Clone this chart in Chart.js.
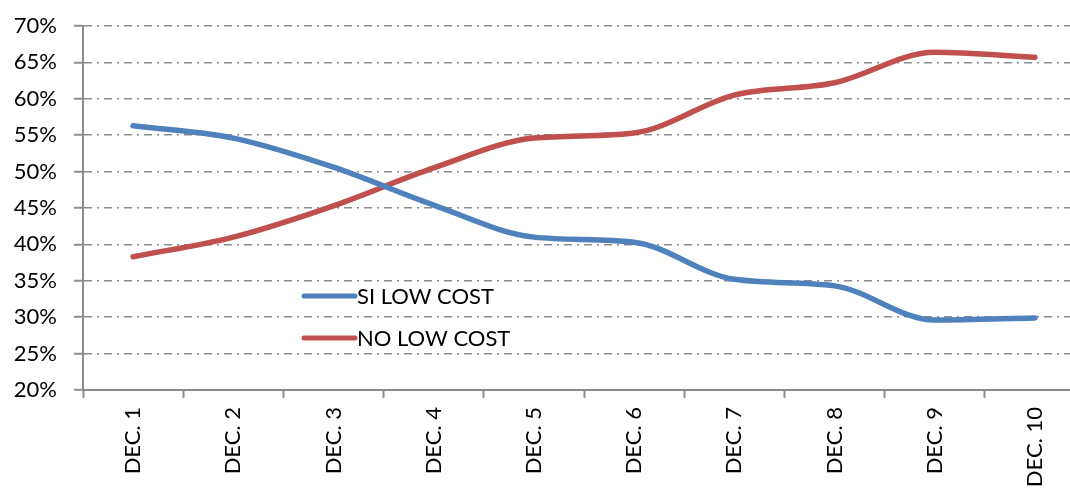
<!DOCTYPE html>
<html><head><meta charset="utf-8">
<script src="https://cdn.jsdelivr.net/npm/chart.js@4.4.1/dist/chart.umd.min.js"></script>
<style>
html,body{margin:0;padding:0;background:#fff;overflow:hidden;}
#wrap{width:1070px;height:488px;overflow:hidden;position:relative;}
#box{width:1085px;height:488px;position:absolute;left:0;top:0;}
</style></head>
<body>
<div id="wrap"><div id="box"><canvas id="c"></canvas></div></div>
<script>
const categories = ["DEC. 1","DEC. 2","DEC. 3","DEC. 4","DEC. 5","DEC. 6","DEC. 7","DEC. 8","DEC. 9","DEC. 10"];
const siLowCost = [56.3, 54.6, 50.6, 45.4, 41.0, 40.3, 35.2, 34.3, 29.6, 29.9];
const noLowCost = [38.3, 41.0, 45.3, 50.5, 54.6, 55.3, 60.5, 62.2, 66.4, 65.7];
const seriesNames = ["SI LOW COST", "NO LOW COST"];
const yTicks = [20, 25, 30, 35, 40, 45, 50, 55, 60, 65, 70];

const FONT = "Lato, 'Open Sans', sans-serif";
const BLUE = "#4f81bd", RED = "#c0504d", GRID = "#8c8c8c";

const legendPlugin = {
  id: 'inlineLegend',
  afterDatasetsDraw(chart) {
    const ctx = chart.ctx;
    const items = chart.data.datasets;
    const ys = [296, 338];
    ctx.save();
    items.forEach((ds, i) => {
      const y = ys[i];
      ctx.strokeStyle = ds.borderColor;
      ctx.lineWidth = 5;
      ctx.lineCap = 'round';
      ctx.beginPath(); ctx.moveTo(304, y); ctx.lineTo(355, y); ctx.stroke();
      ctx.fillStyle = '#000';
      ctx.font = "22px " + FONT;
      ctx.textBaseline = 'middle';
      ctx.textAlign = 'left';
      ctx.fillText(ds.label, 357, y + 1);
    });
    ctx.restore();
  }
};

new Chart(document.getElementById('c'), {
  type: 'line',
  data: {
    labels: categories,
    datasets: [
      { label: seriesNames[0], data: siLowCost, borderColor: BLUE, backgroundColor: BLUE,
        borderWidth: 5.5, pointRadius: 0, cubicInterpolationMode: 'monotone', borderCapStyle: 'round' },
      { label: seriesNames[1], data: noLowCost, borderColor: RED, backgroundColor: RED,
        borderWidth: 5.5, pointRadius: 0, cubicInterpolationMode: 'monotone', borderCapStyle: 'round' }
    ]
  },
  options: {
    responsive: true, maintainAspectRatio: false, animation: false,
    layout: { padding: { top: 26, left: 0, right: 0, bottom: 0 } },
    plugins: { legend: { display: false }, tooltip: { enabled: false }, title: { display: false } },
    scales: {
      x: {
        offset: true,
        grid: { offset: true, drawOnChartArea: false, drawTicks: true, tickLength: 8, tickColor: GRID, tickWidth: 2 },
        border: { display: true, color: GRID, width: 2 },
        ticks: { color: '#000', font: { family: FONT, size: 22 }, minRotation: 90, maxRotation: 90, padding: 9, autoSkip: false },
        afterFit(s) { s.height = 98; s.paddingLeft = 0; s.paddingRight = 0; }
      },
      y: {
        min: 20, max: 70,
        afterBuildTicks(s) { s.ticks = yTicks.map(v => ({ value: v })); },
        grid: { color: GRID, lineWidth: 1.5, drawTicks: true, tickLength: 9,
                tickColor: GRID, tickWidth: 2, tickBorderDash: [] },
        border: { display: true, color: GRID, width: 2, dash: [8, 5, 2, 5] },
        ticks: { color: '#000', font: { family: FONT, size: 22 }, padding: 17, callback: v => v + '%' },
        afterFit(s) { s.width = 83; s.paddingTop = 0; s.paddingBottom = 0; }
      }
    }
  },
  plugins: [legendPlugin]
});
</script>
</body></html>
